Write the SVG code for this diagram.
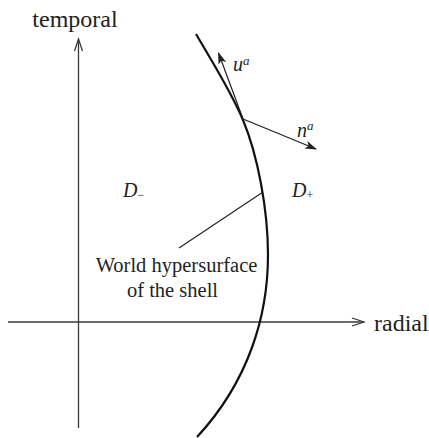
<svg xmlns="http://www.w3.org/2000/svg" width="429" height="438" viewBox="0 0 429 438">
<style>
.axis{stroke:#3a3a3a;stroke-width:1.3;fill:none}
.thin{stroke:#231f20;stroke-width:1.2;fill:none}
.shell{stroke:#111;stroke-width:2.2;fill:none}
text{font-family:'Liberation Serif','Times New Roman',serif;fill:#231f20}
.it{font-style:italic}
</style>
<defs>
<marker id="fill" viewBox="0 0 12 8" refX="11" refY="4" markerWidth="12" markerHeight="8" markerUnits="userSpaceOnUse" orient="auto">
<path d="M0,0 L12,4 L0,8 L3,4 Z" fill="#231f20"/>
</marker>
</defs>
<g id="connectors">
<line class="axis" x1="78.5" y1="428" x2="78.5" y2="39"/>
<polyline class="axis" points="74.5,51 78.5,39 82.5,51"/>
<line class="axis" x1="8" y1="322" x2="364" y2="322"/>
<polyline class="axis" points="352,318 364,322 352,326"/>
<path class="shell" d="M196,34 C212.9,63 230.8,91 243,120 C257.7,155 268,210 268,255 C268,315 249,381 197,437"/>
<line class="thin" x1="243" y1="119" x2="218.5" y2="53" marker-end="url(#fill)"/>
<line class="thin" x1="243" y1="119" x2="316" y2="149" marker-end="url(#fill)"/>
<line class="thin" x1="263" y1="192" x2="179" y2="248"/>
</g>
<g id="temporal"><text x="75" y="27" font-size="24" text-anchor="middle">temporal</text></g>
<g id="radial"><text x="374" y="331" font-size="24">radial</text></g>
<g id="u"><text class="it" x="233" y="71" font-size="20">u<tspan font-size="13" dy="-6">a</tspan></text></g>
<g id="n"><text class="it" x="297" y="137" font-size="20">n<tspan font-size="13" dy="-7">a</tspan></text></g>
<g id="Dminus"><text x="123" y="197" font-size="20"><tspan class="it">D</tspan><tspan font-size="12" dy="2">−</tspan></text></g>
<g id="Dplus"><text x="292" y="197" font-size="20"><tspan class="it">D</tspan><tspan font-size="12" dy="2">+</tspan></text></g>
<g id="world"><text x="176.5" y="272" font-size="20.5" text-anchor="middle">World hypersurface</text><text x="172.5" y="297" font-size="20.5" text-anchor="middle">of the shell</text></g>
</svg>
